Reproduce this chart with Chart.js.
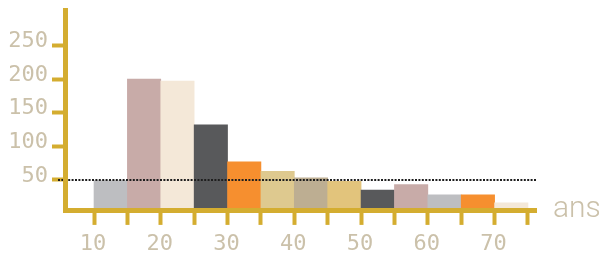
<!DOCTYPE html>
<html>
<head>
<meta charset="utf-8">
<script src="https://cdn.jsdelivr.net/npm/chart.js@4.4.0/dist/chart.umd.min.js"></script>
<style>
  html, body { margin: 0; padding: 0; background: #fff; }
  #box { width: 604px; height: 257px; }
</style>
</head>
<body>
<div id="box"><canvas id="histo"></canvas></div>
<script>
// classes d'age (debut de chaque tranche de 5 ans)
const debuts = [10, 15, 20, 25, 30, 35, 40, 45, 50, 55, 60, 65, 70]
const effectifs = [49, 200, 197, 132, 77, 63, 53, 48, 35, 43, 28, 28, 16]
const couleurs = ["#bdbec1", "#c8aba8", "#f4e8d8", "#58595b", "#f68f2f", "#dec98f", "#bdae92",
                  "#e2c47c", "#58595b", "#c8aba8", "#bdbec1", "#f68f2f", "#f4e8d8"]
const etiquettesX = [10, 20, 30, 40, 50, 60, 70]
const graduationsY = [50, 100, 150, 200, 250]
const seuil = 50
const unite = "ans"

const OR = "#d4ad30"
const TEXTE = "#cbc1aa"

const points = debuts.map((d, i) => ({ x: d + 2.5, y: effectifs[i] }))
const bornes = debuts.concat([debuts[debuts.length - 1] + 5])

// ligne pointillee du seuil + libelle "ans"
const extras = {
    id: "extras",
    afterDatasetsDraw(chart) {
        const { ctx, chartArea, scales } = chart
        const y = scales.y.getPixelForValue(seuil)
        ctx.save()
        ctx.strokeStyle = "#1e1e1e"
        ctx.lineWidth = 2
        ctx.setLineDash([2, 1.4])
        ctx.beginPath()
        ctx.moveTo(chartArea.left - 7.5, y)
        ctx.lineTo(chartArea.right, y)
        ctx.stroke()
        ctx.restore()
    },
    afterDraw(chart) {
        const { ctx, chartArea } = chart
        ctx.save()
        ctx.font = "300 30px Roboto"
        ctx.fillStyle = TEXTE
        ctx.textBaseline = "alphabetic"
        ctx.fillText(unite, chartArea.right + 17, chartArea.bottom + 6)
        ctx.restore()
    }
}

const ctx = document.querySelector("#histo").getContext("2d")

new Chart(ctx, {
    type: "bar",
    data: {
        datasets: [{
            data: points,
            backgroundColor: couleurs,
            borderWidth: 0,
            categoryPercentage: 1,
            barPercentage: 1
        }]
    },
    options: {
        responsive: true,
        maintainAspectRatio: false,
        animation: false,
        layout: { padding: { top: 10.5, right: 68, left: 0, bottom: 0 } },
        plugins: { legend: { display: false }, tooltip: { enabled: false } },
        scales: {
            x: {
                type: "linear",
                offset: false,
                min: 5.73,
                max: 76.2,
                afterBuildTicks: (scale) => { scale.ticks = bornes.map(v => ({ value: v })) },
                afterFit: (scale) => { scale.height = 46.1 },
                border: { display: true, color: OR, width: 5, z: 1 },
                grid: { offset: false, drawOnChartArea: false, drawTicks: true, tickLength: 14, tickWidth: 4, tickColor: OR },
                ticks: {
                    autoSkip: false,
                    maxRotation: 0,
                    padding: 6,
                    labelOffset: -1,
                    color: TEXTE,
                    font: { family: "DejaVu Sans Mono", size: 22 },
                    callback: (v) => etiquettesX.includes(v) ? String(v) : ""
                }
            },
            y: {
                min: 4,
                max: 302,
                afterBuildTicks: (scale) => { scale.ticks = graduationsY.map(v => ({ value: v })) },
                afterFit: (scale) => { scale.width = 65.5; scale.paddingTop = 0; scale.paddingBottom = 0 },
                border: { display: true, color: OR, width: 5, z: 1 },
                grid: { drawOnChartArea: false, drawTicks: true, tickLength: 13.5, tickWidth: 4, tickColor: OR },
                ticks: {
                    padding: 4,
                    labelOffset: -4,
                    color: TEXTE,
                    font: { family: "DejaVu Sans Mono", size: 22, lineHeight: 0.8 }
                }
            }
        }
    },
    plugins: [extras]
})
</script>
</body>
</html>
